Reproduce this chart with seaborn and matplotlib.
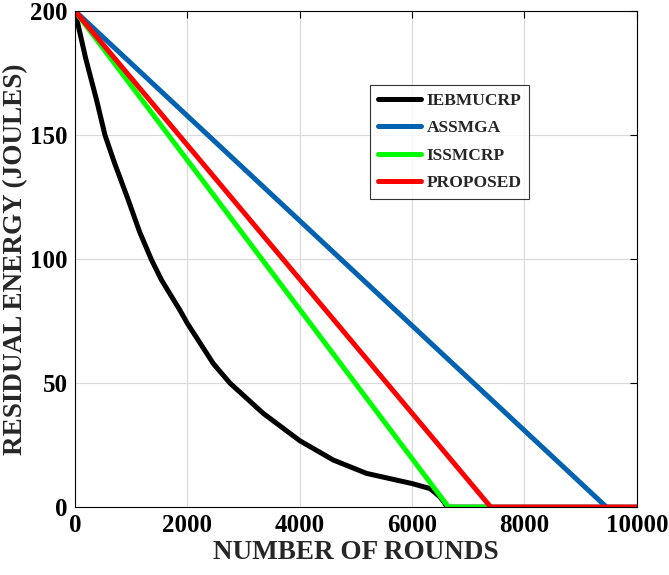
import matplotlib
matplotlib.use("Agg")
import matplotlib.pyplot as plt
import pandas as pd
import numpy as np
import seaborn as sns

# values
rounds_iebmucrp = [0, 190, 386, 534, 700, 949, 1150, 1364, 1542, 1868, 2000, 2461, 2758,
                   3351, 4000, 4597, 5190, 6000, 6317, 6400, 6500, 6570, 6620, 10000]
energy_iebmucrp = [200, 181, 164, 150, 139, 123.8, 111, 99.6, 91.5, 79.4, 74.1, 57.9, 50,
                   37.8, 26.8, 19.0, 13.6, 9.5, 7.5, 6.0, 4.0, 2.0, 0, 0]
rounds_assmga = [0, 9460]
energy_assmga = [200, 0]
rounds_issmcrp = [0, 6650, 7400]
energy_issmcrp = [200, 0, 0]
rounds_proposed = [0, 7400, 10000]
energy_proposed = [200, 0, 0]

names = ["IEBMUCRP", "ASSMGA", "ISSMCRP", "PROPOSED"]
colors = ["#000000", "#0062b0", "#00ff00", "#ff0000"]

frames = []
for name, xs, ys in zip(names,
                        [rounds_iebmucrp, rounds_assmga, rounds_issmcrp, rounds_proposed],
                        [energy_iebmucrp, energy_assmga, energy_issmcrp, energy_proposed]):
    frames.append(pd.DataFrame({"rounds": xs, "energy": ys, "method": name}))
df = pd.concat(frames, ignore_index=True)

sns.set_style("white")
plt.rcParams['font.family'] = ['Liberation Serif', 'DejaVu Serif']
plt.rcParams['font.weight'] = 'bold'

fig = plt.figure(figsize=(6.69, 5.75), dpi=100)
ax = fig.add_axes([0.112, 0.118, 0.84, 0.863])

sns.lineplot(data=df, x="rounds", y="energy", hue="method", hue_order=names,
             palette=colors, linewidth=3.6, sort=False, estimator=None, ax=ax)
for ln in ax.get_lines():
    ln.set_solid_joinstyle("round")

ax.set_xlim(0, 10000)
ax.set_ylim(0, 200)
ax.set_xticks([0, 2000, 4000, 6000, 8000, 10000])
ax.set_yticks([0, 50, 100, 150, 200])
ax.grid(True, color="#d9d9d9", linewidth=0.8)
ax.tick_params(direction="in", length=5, width=0.8, top=True, right=True,
               labelsize=18, colors="black", pad=5)
for lab in ax.get_xticklabels() + ax.get_yticklabels():
    lab.set_fontweight("bold")
for sp in ax.spines.values():
    sp.set_color("black")
    sp.set_linewidth(0.8)

ax.set_xlabel("NUMBER OF ROUNDS", fontsize=19.5, fontweight="bold", labelpad=2)
ax.set_ylabel("RESIDUAL ENERGY (JOULES)", fontsize=19.5, fontweight="bold", labelpad=2)

leg = ax.legend(loc="upper left", bbox_to_anchor=(0.525, 0.851), fontsize=12.5,
                frameon=True, fancybox=False, handlelength=2.5, handletextpad=0.3,
                borderpad=0.45, labelspacing=0.65, borderaxespad=0)
leg.get_frame().set_edgecolor("black")
leg.get_frame().set_linewidth(0.8)
for t in leg.get_texts():
    t.set_fontweight("bold")
for h in leg.get_lines():
    h.set_linewidth(3.6)

fig.savefig("out.png", dpi=100)
